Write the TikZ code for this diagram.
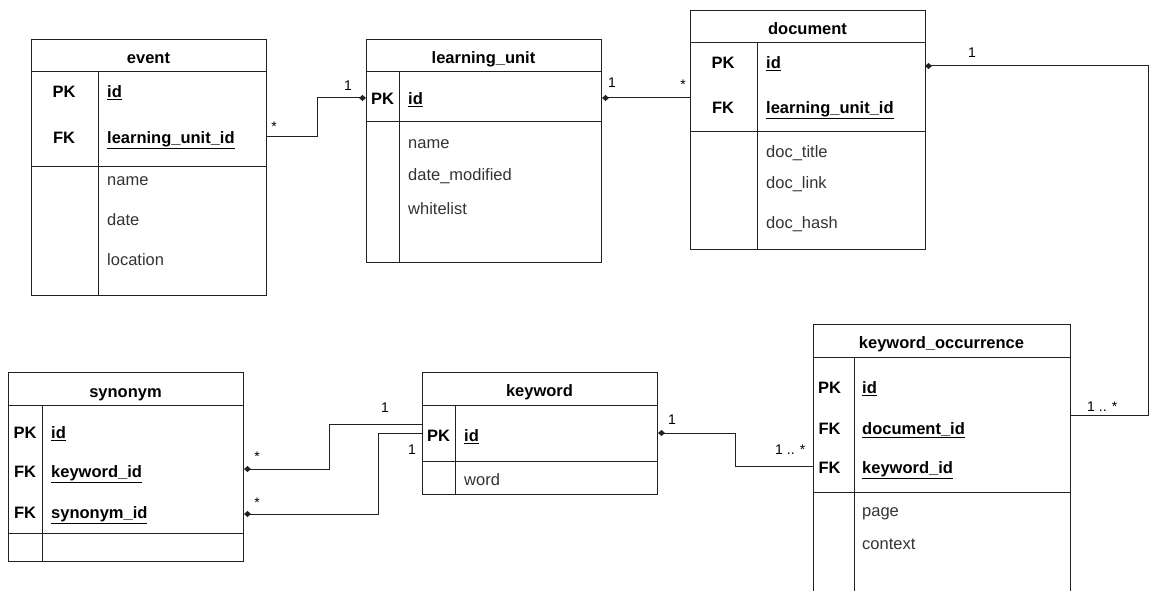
\documentclass[tikz,border=0pt]{standalone}
\usepackage{fontspec}
\setmainfont{Liberation Sans}
\usetikzlibrary{arrows.meta}
\definecolor{ln}{HTML}{222222}
\definecolor{tx}{HTML}{333333}
\begin{document}
\begin{tikzpicture}[x=1pt,y=-1pt,
  tbl/.style={draw=ln, line width=1pt, inner sep=0pt, anchor=north west},
  sep/.style={draw=ln, line width=1pt},
  hdr/.style={font=\fontsize{16.5}{20}\selectfont\bfseries, inner sep=0pt, anchor=mid, yshift=-3.5pt},
  keyc/.style={font=\fontsize{16.5}{20}\selectfont\bfseries, inner sep=0pt, anchor=mid, yshift=-3.5pt},
  fld/.style={font=\fontsize{16.5}{20}\selectfont, text=tx, inner sep=0pt, anchor=mid west, yshift=-3.5pt},
  kfld/.style={font=\fontsize{16.5}{20}\selectfont\bfseries, inner sep=0pt, anchor=mid west, yshift=-3.5pt},
  lbl/.style={font=\fontsize{14}{16}\selectfont, inner sep=0pt, anchor=mid, yshift=-3pt},
  rel/.style={draw=ln, line width=1pt},
  dstart/.style={{Diamond[length=7pt,width=6pt]}-},
  dend/.style={-{Diamond[length=7pt,width=6pt]}}
]
\clip (0,0) rectangle (1154,591);
\path[use as bounding box] (0,0) rectangle (1154,591);

% ---------- event ----------
\node[tbl, minimum width=235pt, minimum height=256pt] (event) at (31,39) {};
\draw[sep] (event.west |- 0,72) -- (event.east |- 0,72);
\draw[sep] (event.west |- 0,167) -- (event.east |- 0,167);
\draw[sep] (98,72) -- (98,295);
\node[hdr] (ev-t) at (148.5,57) {event};
\node[keyc] (ev-pk) at (64,91) {PK};
\node[keyc] (ev-fk) at (64,137) {FK};
\node[kfld] (ev-id) at (107,91) {\underline{id}};
\node[kfld] (ev-luid) at (107,137) {\underline{learning\_unit\_id}};
\node[fld] (ev-name) at (107,179) {name};
\node[fld] (ev-date) at (107,219) {date};
\node[fld] (ev-loc) at (107,259) {location};

% ---------- learning_unit ----------
\node[tbl, minimum width=235pt, minimum height=223pt] (lu) at (366,39) {};
\draw[sep] (lu.west |- 0,72) -- (lu.east |- 0,72);
\draw[sep] (lu.west |- 0,122) -- (lu.east |- 0,122);
\draw[sep] (399,72) -- (399,262);
\node[hdr] (lu-t) at (483.5,57) {learning\_unit};
\node[keyc] (lu-pk) at (382.5,98) {PK};
\node[kfld] (lu-id) at (408,98) {\underline{id}};
\node[fld] (lu-name) at (408,142) {name};
\node[fld] (lu-dm) at (408,174) {date\_modified};
\node[fld] (lu-wl) at (408,208) {whitelist};

% ---------- document ----------
\node[tbl, minimum width=235pt, minimum height=239pt] (doc) at (690,10) {};
\draw[sep] (doc.west |- 0,43) -- (doc.east |- 0,43);
\draw[sep] (doc.west |- 0,132) -- (doc.east |- 0,132);
\draw[sep] (757,43) -- (757,249);
\node[hdr] (doc-t) at (807.5,28) {document};
\node[keyc] (doc-pk) at (723,62) {PK};
\node[keyc] (doc-fk) at (723,107) {FK};
\node[kfld] (doc-id) at (766,62) {\underline{id}};
\node[kfld] (doc-luid) at (766,107) {\underline{learning\_unit\_id}};
\node[fld] (doc-title) at (766,151) {doc\_title};
\node[fld] (doc-link) at (766,182) {doc\_link};
\node[fld] (doc-hash) at (766,222) {doc\_hash};

% ---------- keyword_occurrence ----------
\node[tbl, minimum width=257pt, minimum height=290pt] (ko) at (813,324) {};
\draw[sep] (ko.west |- 0,357) -- (ko.east |- 0,357);
\draw[sep] (ko.west |- 0,492) -- (ko.east |- 0,492);
\draw[sep] (854,357) -- (854,614);
\node[hdr] (ko-t) at (941.5,342) {keyword\_occurrence};
\node[keyc] (ko-pk) at (829.5,387) {PK};
\node[keyc] (ko-fk1) at (829.5,428) {FK};
\node[keyc] (ko-fk2) at (829.5,467) {FK};
\node[kfld] (ko-id) at (862,387) {\underline{id}};
\node[kfld] (ko-did) at (862,428) {\underline{document\_id}};
\node[kfld] (ko-kid) at (862,467) {\underline{keyword\_id}};
\node[fld] (ko-page) at (862,510) {page};
\node[fld] (ko-ctx) at (862,543) {context};

% ---------- keyword ----------
\node[tbl, minimum width=235pt, minimum height=122pt] (kw) at (422,372) {};
\draw[sep] (kw.west |- 0,405) -- (kw.east |- 0,405);
\draw[sep] (kw.west |- 0,461) -- (kw.east |- 0,461);
\draw[sep] (455,405) -- (455,494);
\node[hdr] (kw-t) at (539.5,390) {keyword};
\node[keyc] (kw-pk) at (438.5,435) {PK};
\node[kfld] (kw-id) at (464,435) {\underline{id}};
\node[fld] (kw-word) at (464,479) {word};

% ---------- synonym ----------
\node[tbl, minimum width=235pt, minimum height=189pt] (syn) at (8,372) {};
\draw[sep] (syn.west |- 0,405) -- (syn.east |- 0,405);
\draw[sep] (syn.west |- 0,533) -- (syn.east |- 0,533);
\draw[sep] (42,405) -- (42,561);
\node[hdr] (syn-t) at (125.5,391) {synonym};
\node[keyc] (syn-pk) at (25,432) {PK};
\node[keyc] (syn-fk1) at (25,471) {FK};
\node[keyc] (syn-fk2) at (25,512) {FK};
\node[kfld] (syn-id) at (51,432) {\underline{id}};
\node[kfld] (syn-kid) at (51,471) {\underline{keyword\_id}};
\node[kfld] (syn-sid) at (51,512) {\underline{synonym\_id}};

% ---------- relations ----------
% event -> learning_unit
\draw[rel, dend] (event.east |- 0,137) -- ++(50,0) |- (lu.west |- 0,98);
\node[lbl] (l1a) at (274,126) {*};
\node[lbl] (l1b) at (348,85) {1};

% learning_unit -> document
\draw[rel, dstart] (lu.east |- 0,98) -- (doc.west |- 0,98);
\node[lbl] (l2a) at (612,82) {1};
\node[lbl] (l2b) at (683,84) {*};

% document -> keyword_occurrence
\coordinate (c3) at (925,66);
\coordinate (c4) at (1070,415);
\draw[rel, dstart] (c3) -- (1148,66) |- (c4);
\node[lbl] (l3a) at (972,52) {1};
\node[lbl, anchor=west] (l3b) at (1087,404) {1 .. *};

% keyword -> keyword_occurrence
\draw[rel, dstart] (kw.east |- 0,433) -- (735,433) |- (ko.west |- 0,466);
\node[lbl] (l4a) at (672,419) {1};
\node[lbl, anchor=west] (l4b) at (775,447) {1 .. *};

% synonym.keyword_id -> keyword
\draw[rel, dstart] (syn.east |- 0,469) -- (329,469) |- (kw.west |- 0,424);
\node[lbl] (l5a) at (257,456) {*};
\node[lbl] (l5b) at (385,407) {1};

% synonym.synonym_id -> keyword
\draw[rel, dstart] (syn.east |- 0,514) -- (378,514) |- (kw.west |- 0,433);
\node[lbl] (l6a) at (257,502) {*};
\node[lbl] (l6b) at (412,449) {1};
\end{tikzpicture}
\end{document}
